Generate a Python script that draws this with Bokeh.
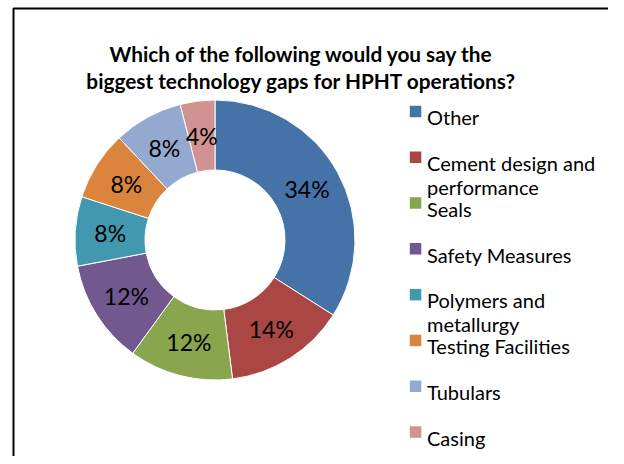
import numpy as np
from bokeh.plotting import figure
from bokeh.models import Range1d, ColumnDataSource
from bokeh.embed import file_html
from bokeh.resources import INLINE
from bokeh.core.properties import value

# ---- data ----
categories = ["Other", "Cement design and\nperformance", "Seals", "Safety Measures",
              "Polymers and\nmetallurgy", "Testing Facilities", "Tubulars", "Casing"]
percentages = [34, 14, 12, 12, 8, 8, 8, 4]
colors = ["#4572A7", "#AA4643", "#89A54E", "#71588F",
          "#4198AF", "#DB843D", "#93A9CF", "#D19392"]
title_lines = ["Which of the following would you say the",
               "biggest technology gaps for HPHT operations?"]

FONT = "Lato"

# figure in screen pixel coordinates (y stored as negative pixel)
W, H = 608, 456
p = figure(width=W, height=H, output_backend="svg", toolbar_location=None,
           x_range=Range1d(0, W), y_range=Range1d(-H, 0),
           min_border=0, min_border_left=0, min_border_right=0,
           min_border_top=0, min_border_bottom=0)
p.axis.visible = False
p.grid.visible = False
p.outline_line_color = None
p.background_fill_color = "white"
p.border_fill_color = "white"

# chart border
p.quad(left=13, right=609, top=-8, bottom=-520, fill_color=None,
       line_color="black", line_width=2)

# donut
cx, cy = 214.5, -239.5
r_in, r_out = 70, 140
vals = np.array(percentages, dtype=float)
frac = vals / vals.sum()
cum = np.cumsum(frac)
start = np.pi / 2 - 2 * np.pi * (cum - frac)
end = np.pi / 2 - 2 * np.pi * cum
src = ColumnDataSource(dict(start=start, end=end, color=colors))
p.annular_wedge(x=cx, y=cy, inner_radius=r_in, outer_radius=r_out,
                start_angle="start", end_angle="end", direction="clock",
                fill_color="color", line_color="white", line_width=1, source=src)

mid = (start + end) / 2
r_lab = 105
lab = ColumnDataSource(dict(x=cx + r_lab * np.cos(mid), y=cy + r_lab * np.sin(mid),
                            t=[f"{v}%" for v in percentages]))
p.text(x="x", y="y", text="t", source=lab, text_align="center",
       text_baseline="middle", text_font=value(FONT), text_font_size="23px",
       text_color="black")

# title
p.text(x=[301, 301], y=[-53, -80], text=title_lines, text_align="center",
       text_baseline="alphabetic", text_font=value(FONT), text_font_size="20.8px",
       text_font_style="bold", text_color="black")

# legend
base0, step = 116.7, 45.8
sq_l, sq_r, sq = 409.3, 420.8, 11.5
tx = 426.5
lx, ly, lt = [], [], []
for i, c in enumerate(categories):
    b = base0 + step * i
    p.quad(left=sq_l, right=sq_r, top=-(b - sq), bottom=-b,
           fill_color=colors[i], line_color=None)
    for j, line in enumerate(c.split("\n")):
        lx.append(tx)
        ly.append(-(b + 24 * j))
        lt.append(line)
p.text(x=lx, y=ly, text=lt, text_align="left", text_baseline="alphabetic",
       text_font=value(FONT), text_font_size="20px", text_color="black")

open("out.html", "w").write(file_html(p, INLINE))
